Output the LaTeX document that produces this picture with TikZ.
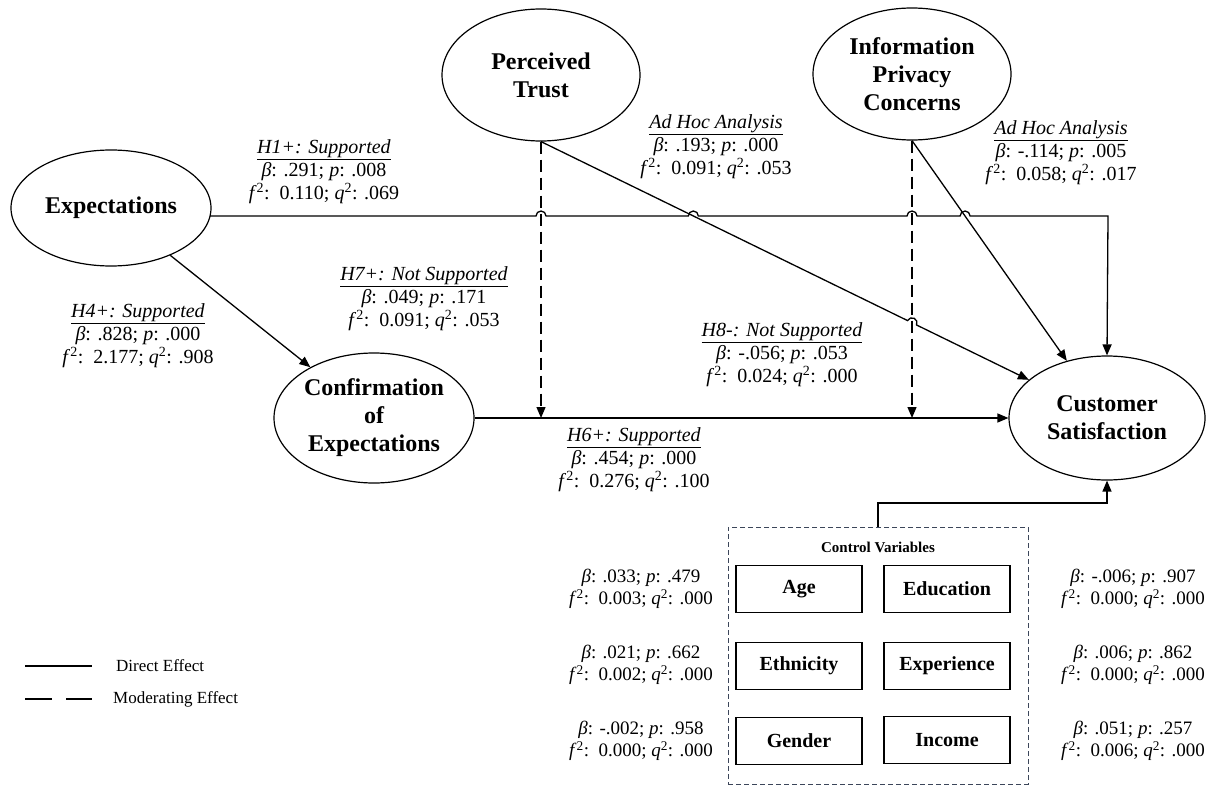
\documentclass[tikz,border=0pt]{standalone}
\usepackage{fontspec}
\setmainfont{Liberation Serif}
\usetikzlibrary{arrows.meta,calc,shapes.geometric}

\newcommand{\statbp}[2]{\textit{β}: #1; \textit{p}: #2}
\newcommand{\statfq}[2]{\textit{f}\textsuperscript{2}:\ \ #1; \textit{q}\textsuperscript{2}: #2}
\newcommand{\hyp}[1]{\underline{\textit{#1}}}

\begin{document}
\begin{tikzpicture}[x=1pt,y=-1pt,
  latent/.style={draw,line width=1.2pt,ellipse,inner sep=0pt,align=center,
    font=\fontsize{24}{28}\selectfont\bfseries},
  ctrl/.style={draw,line width=1.2pt,minimum width=126pt,minimum height=47pt,
    inner sep=0pt,font=\fontsize{20}{24}\selectfont\bfseries},
  stat/.style={align=center,inner sep=0pt,font=\fontsize{20}{23}\selectfont},
  cstat/.style={align=center,inner sep=0pt,font=\fontsize{19}{22}\selectfont},
  direct/.style={line width=1.3pt},
  moder/.style={line width=1.3pt,dash pattern=on 12pt off 6pt},
  arr/.style={-{Triangle[length=11pt,width=9pt]}},
  legtext/.style={anchor=west,inner sep=0pt,font=\fontsize{17}{19}\selectfont},
]
\useasboundingbox (0,0) rectangle (1206,786);

% latent constructs
\node[latent,minimum width=200pt,minimum height=116pt] (Exp) at (111,208) {Expectations};
\node[latent,minimum width=198pt,minimum height=132pt] (PT)  at (541,75)  {Perceived\\Trust};
\node[latent,minimum width=198pt,minimum height=132pt] (IPC) at (912,74)  {Information\\Privacy\\Concerns};
\node[latent,minimum width=200pt,minimum height=130pt] (CE)  at (374,418) {Confirmation\\of\\Expectations};
\node[latent,minimum width=196pt,minimum height=124pt] (CS)  at (1107,418) {Customer\\Satisfaction};

% feet of the moderator paths and the corners of the H1 path
\coordinate (PTfoot)  at (PT.south);
\coordinate (IPCfoot) at (IPC.south);
\coordinate (h1start) at ($(Exp.center)+(99,8)$);
\coordinate (h1corner) at (1108,216);
\coordinate (PTdrop)  at (PTfoot |- CE.east);
\coordinate (IPCdrop) at (IPCfoot |- CE.east);

% crossings on the H1 path and on the trust path
\coordinate (xP) at (PTfoot |- h1start);
\coordinate (xI) at (IPCfoot |- h1start);
\coordinate (xA) at (intersection of PTfoot--CS and h1start--h1corner);
\coordinate (xB) at (intersection of IPCfoot--CS and h1start--h1corner);
\coordinate (xD) at (intersection of PTfoot--CS and IPCfoot--IPCdrop);

% H1: expectations -> satisfaction, hopping over the crossing paths
\draw[direct,arr] (h1start)
  -- ($(xP)-(5,0)$) arc[start angle=180,end angle=0,radius=5pt]
  -- ($(xA)-(5,0)$) arc[start angle=180,end angle=0,radius=5pt]
  -- ($(xI)-(5,0)$) arc[start angle=180,end angle=0,radius=5pt]
  -- ($(xB)-(5,0)$) arc[start angle=180,end angle=0,radius=5pt]
  -- (h1corner) -- (CS.north);

% H4 and H6
\draw[direct,arr] (Exp) -- (CE);
\draw[direct,arr] (CE.east) -- (CS.west);

% ad hoc direct paths
\draw[direct,arr] let \p1=($(CS)-(PTfoot)$), \n1={atan2(\y1,\x1)} in
  (PTfoot) -- ($(xD)!5pt!(PTfoot)$)
  arc[start angle=\n1+180,end angle=\n1,radius=5pt] -- (CS);
\draw[direct,arr] (IPCfoot) -- (CS);

% moderating paths
\draw[moder,arr] (PTfoot) -- (PTdrop);
\draw[moder,arr] (IPCfoot) -- (IPCdrop);

% path labels
\node[stat] (lH1) at (324,172) {\hyp{H1+: Supported}\\\statbp{.291}{.008}\\\statfq{0.110}{.069}};
\node[stat] (lPT) at (716,147) {\hyp{Ad Hoc Analysis}\\\statbp{.193}{.000}\\\statfq{0.091}{.053}};
\node[stat] (lIPC) at (1061,153) {\hyp{Ad Hoc Analysis}\\\statbp{-.114}{.005}\\\statfq{0.058}{.017}};
\node[stat] (lH4) at (138,336) {\hyp{H4+: Supported}\\\statbp{.828}{.000}\\\statfq{2.177}{.908}};
\node[stat] (lH7) at (424,299) {\hyp{H7+: Not Supported}\\\statbp{.049}{.171}\\\statfq{0.091}{.053}};
\node[stat] (lH8) at (782,355) {\hyp{H8-: Not Supported}\\\statbp{-.056}{.053}\\\statfq{0.024}{.000}};
\node[stat] (lH6) at (634,460) {\hyp{H6+: Supported}\\\statbp{.454}{.000}\\\statfq{0.276}{.100}};

% control variables
\node[draw,line width=1pt,dash pattern=on 5pt off 3pt,color={rgb,255:red,60;green,70;blue,90},
  minimum width=300pt,minimum height=257pt,inner sep=0pt] (CV) at (878,655.5) {};
\node[inner sep=0pt,font=\fontsize{15}{18}\selectfont\bfseries] (CVt) at (878,547) {Control Variables};
\node[ctrl] (Age) at (799,589) {Age};
\node[ctrl] (Edu) at (947,589) {Education};
\node[ctrl] (Eth) at (799,666) {Ethnicity};
\node[ctrl] (Exr) at (947,666) {Experience};
\node[ctrl] (Gen) at (799,741) {Gender};
\node[ctrl] (Inc) at (947,740) {Income};
\coordinate (cvturn) at (878,503);
\draw[direct,arr] (CV.north) -- (cvturn) -| (CS.south);

\node[cstat] (sAge) at (641,589) {\statbp{.033}{.479}\\\statfq{0.003}{.000}};
\node[cstat] (sEth) at (641,665) {\statbp{.021}{.662}\\\statfq{0.002}{.000}};
\node[cstat] (sGen) at (641,741) {\statbp{-.002}{.958}\\\statfq{0.000}{.000}};
\node[cstat] (sEdu) at (1133,589) {\statbp{-.006}{.907}\\\statfq{0.000}{.000}};
\node[cstat] (sExr) at (1133,665) {\statbp{.006}{.862}\\\statfq{0.000}{.000}};
\node[cstat] (sInc) at (1133,741) {\statbp{.051}{.257}\\\statfq{0.006}{.000}};

% legend
\coordinate (ld1) at (25,666);
\coordinate (ld2) at (92,666);
\coordinate (lm1) at (25,699);
\coordinate (lm2) at (92,699);
\draw[line width=2.5pt] (ld1) -- (ld2);
\draw[line width=2.5pt,dash pattern=on 27pt off 14pt] (lm1) -- (lm2);
\node[legtext] (tD) at (116,666) {Direct Effect};
\node[legtext] (tM) at (113,699) {Moderating Effect};
\end{tikzpicture}
\end{document}
